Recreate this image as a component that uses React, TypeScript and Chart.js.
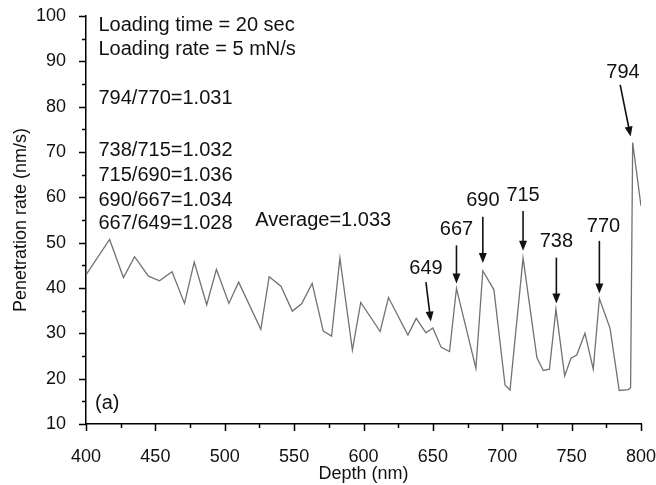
import React, { useEffect, useRef } from "react";
import { Chart, registerables } from "chart.js";

Chart.register(...registerables);

// Data
const depth = [400, 417, 427, 435, 445, 453, 462, 471, 478, 487, 494, 503, 510, 526, 532, 540.5, 548.7, 555.4, 563, 571, 577, 583, 592, 598, 612, 618, 632, 638, 645, 650, 656, 662, 667, 681, 686, 694, 702, 705.6, 715, 725, 729.6, 734, 738.7, 745, 749.5, 753.7, 759.6, 765.6, 770, 777.7, 784.3, 790.8, 792.5, 794, 800];
const rate = [42.9, 50.7, 42.3, 46.9, 42.6, 41.6, 43.6, 36.6, 45.7, 36.3, 44.1, 36.6, 41.3, 30.9, 42.5, 40.4, 34.9, 36.5, 41.0, 30.5, 29.4, 46.6, 26.3, 36.8, 30.4, 37.9, 29.6, 33.3, 30.1, 31.2, 26.9, 26.0, 39.9, 22.3, 43.8, 39.6, 18.6, 17.5, 46.6, 24.6, 21.8, 22.1, 35.3, 20.6, 24.5, 25.2, 30.0, 22.1, 37.7, 31.1, 17.4, 17.6, 18.0, 72.1, 58.1];

// Peak annotations (labels, label anchor, arrow start, arrow tip) in data units
const peakLabels = ["649", "667", "690", "715", "738", "770", "794"];
const peakLabelX = [645, 667, 686, 715, 739, 773, 787];
const peakLabelY = [44.4, 52.8, 59.2, 60.5, 50.2, 53.5, 87.5];
const arrowFromX = [645, 667, 686, 715, 739, 770, 785];
const arrowFromY = [41.3, 49.4, 55.7, 57.0, 46.7, 50.4, 84.8];
const arrowToX = [648.5, 667, 686, 715, 739, 770, 792.5];
const arrowToY = [32.6, 41.0, 45.5, 48.2, 36.6, 38.8, 73.4];

// Text notes (left-aligned) in data units
const notes = ["Loading time = 20 sec", "Loading rate = 5 mN/s", "794/770=1.031", "738/715=1.032", "715/690=1.036", "690/667=1.034", "667/649=1.028", "Average=1.033", "(a)"];
const noteX = [409, 409, 409, 409, 409, 409, 409, 522, 406.5];
const noteY = [97.9, 92.6, 81.7, 70.3, 64.8, 59.4, 54.3, 54.9, 14.6];

const FONT = "'Liberation Sans', Arial, sans-serif";

const overlay = {
  id: "overlay",
  afterDraw(chart: any) {
    const { ctx, scales } = chart;
    const x = scales.x;
    const y = scales.y;
    const area = chart.chartArea;
    ctx.save();
    // tick marks (outward, major + minor)
    ctx.strokeStyle = "#000";
    ctx.lineWidth = 1.5;
    ctx.beginPath();
    for (let v = 400; v <= 800; v += 25) {
      const px = Math.round(x.getPixelForValue(v)) + 0.5;
      const len = v % 50 === 0 ? 7 : 4;
      ctx.moveTo(px, area.bottom);
      ctx.lineTo(px, area.bottom + len);
    }
    for (let v = 10; v <= 100; v += 5) {
      const py = Math.round(y.getPixelForValue(v)) + 0.5;
      const len = v % 10 === 0 ? 7 : 4;
      ctx.moveTo(area.left, py);
      ctx.lineTo(area.left - len, py);
    }
    ctx.stroke();

    // notes
    ctx.fillStyle = "#111";
    ctx.font = `20px ${FONT}`;
    ctx.textBaseline = "middle";
    ctx.textAlign = "left";
    notes.forEach((t, i) => {
      ctx.fillText(t, x.getPixelForValue(noteX[i]), y.getPixelForValue(noteY[i]));
    });

    // peak labels and arrows
    ctx.textAlign = "center";
    peakLabels.forEach((t, i) => {
      ctx.fillStyle = "#111";
      ctx.fillText(t, x.getPixelForValue(peakLabelX[i]), y.getPixelForValue(peakLabelY[i]));
      const x0 = x.getPixelForValue(arrowFromX[i]);
      const y0 = y.getPixelForValue(arrowFromY[i]);
      const x1 = x.getPixelForValue(arrowToX[i]);
      const y1 = y.getPixelForValue(arrowToY[i]);
      const ang = Math.atan2(y1 - y0, x1 - x0);
      const hl = 10;
      const hw = 4;
      ctx.strokeStyle = "#111";
      ctx.lineWidth = 1.6;
      ctx.beginPath();
      ctx.moveTo(x0, y0);
      ctx.lineTo(x1 - Math.cos(ang) * hl * 0.8, y1 - Math.sin(ang) * hl * 0.8);
      ctx.stroke();
      ctx.beginPath();
      ctx.moveTo(x1, y1);
      ctx.lineTo(x1 - Math.cos(ang) * hl - Math.sin(ang) * hw, y1 - Math.sin(ang) * hl + Math.cos(ang) * hw);
      ctx.lineTo(x1 - Math.cos(ang) * hl + Math.sin(ang) * hw, y1 - Math.sin(ang) * hl - Math.cos(ang) * hw);
      ctx.closePath();
      ctx.fill();
    });
    ctx.restore();
  },
};

export default function App() {
  const ref = useRef<HTMLCanvasElement | null>(null);
  useEffect(() => {
    document.body.style.margin = "0";
    const canvas = ref.current!;
    const points = depth.map((d, i) => ({ x: d, y: rate[i] }));
    const tickFont = { family: FONT, size: 18 };
    const chart = new Chart(canvas, {
      type: "scatter",
      data: {
        datasets: [
          {
            data: points,
            showLine: true,
            borderColor: "#727272",
            borderWidth: 1.3,
            pointRadius: 0,
            tension: 0,
          },
        ],
      },
      options: {
        responsive: false,
        animation: false,
        devicePixelRatio: 1,
        layout: { padding: { top: 16, right: 15, left: 0, bottom: 0 } },
        plugins: { legend: { display: false }, tooltip: { enabled: false } },
        scales: {
          x: {
            type: "linear",
            min: 400,
            max: 800,
            grid: { display: false },
            border: { display: true, color: "#000", width: 1.5 },
            ticks: { stepSize: 50, font: tickFont, color: "#111", padding: 14, maxRotation: 0 },
            title: { display: true, text: "Depth (nm)", font: tickFont, color: "#111", padding: { top: 0, bottom: 0 } },
            afterFit: (s: any) => {
              s.height = 61;
              s.paddingLeft = 0;
              s.paddingRight = 0;
            },
          },
          y: {
            type: "linear",
            min: 10,
            max: 100,
            grid: { display: false },
            border: { display: true, color: "#000", width: 1.5 },
            ticks: { stepSize: 10, font: tickFont, color: "#111", padding: 12 },
            title: { display: true, text: "Penetration rate (nm/s)", font: tickFont, color: "#111", padding: { top: 10, bottom: 0 } },
            afterFit: (s: any) => {
              s.width = 86;
              s.paddingTop = 0;
              s.paddingBottom = 0;
            },
          },
        },
      },
      plugins: [overlay],
    });
    return () => chart.destroy();
  }, []);
  return <canvas ref={ref} width={656} height={485} style={{ display: "block" }} />;
}
